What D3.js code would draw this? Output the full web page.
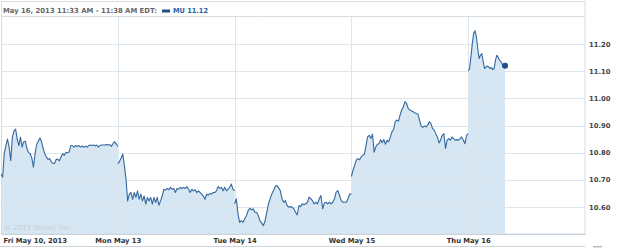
<!DOCTYPE html>
<html>
<head>
<meta charset="utf-8">
<script src="https://cdn.jsdelivr.net/npm/d3@7"></script>
<style>
  body { margin: 0; background: #fff; }
  svg text { font-family: "DejaVu Sans", Verdana, sans-serif; }
</style>
</head>
<body>
<svg id="chart"></svg>
<script>
/* intraday prices, MU, sampled evenly through each session */
const fri = [10.72, 10.71, 10.796, 10.826, 10.85, 10.82, 10.77, 10.857, 10.88, 10.887, 10.85, 10.826, 10.857, 10.82, 10.84, 10.842, 10.815, 10.80, 10.796, 10.78, 10.746, 10.796, 10.83, 10.842, 10.854, 10.84, 10.815, 10.796, 10.784, 10.775, 10.778, 10.766, 10.76, 10.76, 10.775, 10.775, 10.77, 10.784, 10.796, 10.79, 10.80, 10.80, 10.802, 10.826, 10.826, 10.82, 10.826, 10.823, 10.826, 10.82, 10.825, 10.82, 10.824, 10.82, 10.826, 10.828, 10.826, 10.828, 10.825, 10.828, 10.82, 10.826, 10.828, 10.828, 10.828, 10.83, 10.828, 10.83, 10.823, 10.833, 10.84, 10.833, 10.823];
const mon = [10.758, 10.767, 10.779, 10.795, 10.752, 10.702, 10.622, 10.647, 10.653, 10.628, 10.653, 10.635, 10.659, 10.628, 10.647, 10.622, 10.64, 10.61, 10.635, 10.622, 10.635, 10.61, 10.635, 10.616, 10.635, 10.606, 10.622, 10.64, 10.665, 10.662, 10.668, 10.663, 10.672, 10.665, 10.668, 10.653, 10.668, 10.665, 10.672, 10.668, 10.672, 10.668, 10.675, 10.665, 10.653, 10.665, 10.659, 10.663, 10.653, 10.659, 10.653, 10.647, 10.64, 10.628, 10.647, 10.643, 10.65, 10.647, 10.653, 10.653, 10.659, 10.675, 10.668, 10.672, 10.659, 10.672, 10.659, 10.665, 10.672, 10.684, 10.665, 10.659];
const tue = [10.611, 10.63, 10.574, 10.543, 10.549, 10.543, 10.556, 10.568, 10.586, 10.595, 10.589, 10.593, 10.58, 10.58, 10.568, 10.549, 10.54, 10.531, 10.549, 10.58, 10.611, 10.63, 10.648, 10.66, 10.675, 10.679, 10.67, 10.66, 10.63, 10.617, 10.623, 10.605, 10.599, 10.601, 10.599, 10.593, 10.58, 10.57, 10.605, 10.601, 10.611, 10.609, 10.611, 10.617, 10.636, 10.63, 10.623, 10.611, 10.617, 10.611, 10.63, 10.642, 10.593, 10.614, 10.617, 10.611, 10.617, 10.611, 10.617, 10.63, 10.654, 10.66, 10.642, 10.623, 10.617, 10.617, 10.617, 10.63, 10.648, 10.646];
const wed = [10.712, 10.735, 10.753, 10.772, 10.778, 10.774, 10.784, 10.79, 10.794, 10.827, 10.858, 10.864, 10.852, 10.868, 10.802, 10.821, 10.831, 10.833, 10.848, 10.836, 10.848, 10.831, 10.846, 10.84, 10.858, 10.877, 10.885, 10.914, 10.92, 10.916, 10.938, 10.957, 10.969, 10.988, 10.981, 10.963, 10.957, 10.954, 10.951, 10.947, 10.944, 10.942, 10.92, 10.898, 10.893, 10.898, 10.895, 10.901, 10.914, 10.907, 10.889, 10.883, 10.87, 10.858, 10.836, 10.846, 10.864, 10.87, 10.815, 10.846, 10.852, 10.846, 10.858, 10.852, 10.846, 10.848, 10.846, 10.852, 10.858, 10.846, 10.833, 10.864, 10.87];
const thu = [11.101, 11.11, 11.153, 11.202, 11.24, 11.249, 11.227, 11.184, 11.147, 11.159, 11.165, 11.135, 11.11, 11.116, 11.119, 11.116, 11.11, 11.114, 11.106, 11.11, 11.141, 11.159, 11.151, 11.141, 11.135, 11.126, 11.116, 11.12];

const days = [fri, mon, tue, wed, thu];
const dayLabels = ["Fri May 10, 2013", "Mon May 13", "Tue May 14", "Wed May 15", "Thu May 16"];
const sessionMinutes = [390, 390, 390, 390, 123];  // 9:30 -> 16:00, Thu only up to 11:33
const yTicks = [10.6, 10.7, 10.8, 10.9, 11.0, 11.1, 11.2];
const headerText = "May 16, 2013 11:33 AM - 11:38 AM EDT:";
const symbol = "MU";
const lastPrice = 11.12;

const width = 625, height = 250;
const margin = { top: 17, right: 40, bottom: 16, left: 1 };
const plotRight = width - margin.right, plotBottom = height - margin.bottom;

const svg = d3.select("#chart")
    .attr("width", width)
    .attr("height", height);

/* x is measured in trading days, y in dollars */
const x = d3.scaleLinear().domain([0, 5]).range([margin.left, plotRight]);
const y = d3.scaleLinear().domain([10.5, 11.3]).range([plotBottom, margin.top]);

/* flatten the sessions into points */
const points = [];
days.forEach((vals, d) => {
    vals.forEach((v, i) => {
        points.push({ day: d, t: d + (i / (vals.length - 1)) * sessionMinutes[d] / 390, v: v });
    });
});

/* area under the whole series */
const area = d3.area()
    .x(d => x(d.t))
    .y0(plotBottom)
    .y1(d => y(d.v));

svg.append("path")
    .datum(points)
    .attr("fill", "#d6e6f2")
    .attr("d", area);

/* grid on top of the fill */
svg.append("g")
    .selectAll("line")
    .data(yTicks)
    .join("line")
    .attr("x1", margin.left).attr("x2", plotRight)
    .attr("y1", d => Math.round(y(d)) + 0.5).attr("y2", d => Math.round(y(d)) + 0.5)
    .attr("stroke", "#dde6ee")
    .attr("stroke-width", 1);

svg.append("g")
    .selectAll("line")
    .data([1, 2, 3, 4])
    .join("line")
    .attr("x1", d => Math.round(x(d)) + 0.5).attr("x2", d => Math.round(x(d)) + 0.5)
    .attr("y1", margin.top).attr("y2", plotBottom)
    .attr("stroke", "#dde6ee")
    .attr("stroke-width", 1);

/* frame: header box and plot border */
svg.append("rect")
    .attr("x", 1.5).attr("y", 1.5)
    .attr("width", plotRight - 1.5).attr("height", plotBottom - 1.5)
    .attr("fill", "none")
    .attr("stroke", "#d5dde5");

svg.append("line")
    .attr("x1", 1.5).attr("x2", plotRight)
    .attr("y1", margin.top - 0.5).attr("y2", margin.top - 0.5)
    .attr("stroke", "#d5dde5");

/* bottom rule under labels */
svg.append("line")
    .attr("x1", 0).attr("x2", plotRight)
    .attr("y1", 246.5).attr("y2", 246.5)
    .attr("stroke", "#d0d4d8");
svg.append("rect")
    .attr("x", 593).attr("y", 246).attr("width", 9).attr("height", 1.5)
    .attr("fill", "#bbbbbb");

/* one line per session, broken at day changes */
const line = d3.line()
    .x(d => x(d.t))
    .y(d => y(d.v));

svg.append("g")
    .selectAll("path")
    .data(d3.groups(points, d => d.day).map(g => g[1]))
    .join("path")
    .attr("fill", "none")
    .attr("stroke", "#34689e")
    .attr("stroke-width", 1.1)
    .attr("stroke-linejoin", "round")
    .attr("d", line);

const last = points[points.length - 1];
svg.append("circle")
    .attr("cx", x(last.t)).attr("cy", y(last.v))
    .attr("r", 3)
    .attr("fill", "#1d5089");

/* y axis labels on the right */
const yAxis = svg.append("g")
    .attr("transform", `translate(${plotRight}, 0)`)
    .call(d3.axisRight(y).tickValues(yTicks).tickFormat(d3.format(".2f")).tickSize(0).tickPadding(4));
yAxis.select(".domain").remove();
yAxis.selectAll("text")
    .attr("fill", "#444")
    .style("font-size", "6.8px")
    .style("font-weight", "bold");

/* x axis: day labels */
const xAxis = svg.append("g")
    .attr("transform", `translate(0, ${plotBottom})`)
    .call(d3.axisBottom(x).tickValues([0, 1, 2, 3, 4]).tickFormat((d, i) => dayLabels[i]).tickSize(0).tickPadding(4));
xAxis.select(".domain")
    .attr("stroke", "#c9d3dd");
xAxis.selectAll("text")
    .attr("fill", "#333")
    .style("font-size", "6.8px")
    .style("font-weight", "bold");
xAxis.selectAll(".tick").filter(d => d === 0).select("text")
    .attr("text-anchor", "start")
    .attr("x", 2);

/* watermark */
svg.append("text")
    .attr("x", 4).attr("y", 230)
    .attr("fill", "#c9cdd2")
    .style("font-size", "7px")
    .text("\u00a9 2013 Yahoo! Inc.");

/* header */
svg.append("text")
    .attr("x", 3).attr("y", 12.5)
    .attr("fill", "#666")
    .style("font-size", "7px")
    .style("font-weight", "bold")
    .attr("textLength", 154)
    .attr("lengthAdjust", "spacingAndGlyphs")
    .text(headerText);

svg.append("rect")
    .attr("x", 162).attr("y", 9.5).attr("width", 8).attr("height", 3)
    .attr("fill", "#1d5089");

svg.append("text")
    .attr("x", 173).attr("y", 12.5)
    .attr("fill", "#1f5fa5")
    .style("font-size", "7px")
    .style("font-weight", "bold")
    .attr("textLength", 35)
    .attr("lengthAdjust", "spacingAndGlyphs")
    .text(`${symbol} ${lastPrice.toFixed(2)}`);
</script>
</body>
</html>
